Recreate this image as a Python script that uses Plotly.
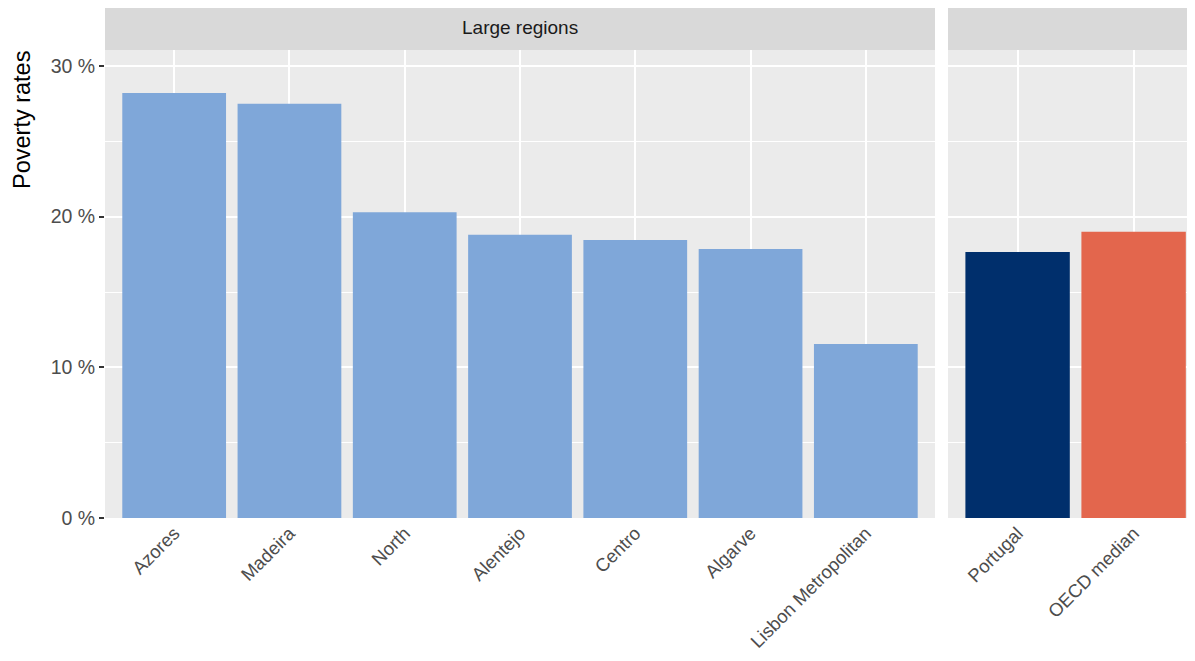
import plotly.graph_objects as go

regions = ["Azores", "Madeira", "North", "Alentejo", "Centro", "Algarve", "Lisbon Metropolitan"]
region_values = [28.2, 27.5, 20.3, 18.8, 18.45, 17.85, 11.55]
benchmarks = ["Portugal", "OECD median"]
benchmark_values = [17.65, 19.0]
benchmark_colors = ["#002F6C", "#E3664D"]
region_color = "#7FA7D9"
ytick_vals = [0, 10, 20, 30]
ytick_text = ["0 %", "10 %", "20 %", "30 %"]
strip_labels = ["Large regions", ""]
y_title = "Poverty rates"

# page body has an 8px margin, so the figure is drawn shifted by 8px
OFF = 8
W, H = 1195, 661
ref_left, ref_right, ref_top, ref_bottom = 105, 1195, 50, 518
L = ref_left - OFF
T = ref_top - OFF
R = W - (ref_right - OFF)
B = H - (ref_bottom - OFF)
pw = W - L - R
ph = H - T - B

def px_x(p):
    return (p - ref_left) / pw

def px_y(p):
    return (ref_bottom - p) / ph

font_family = "Liberation Sans, Arial, sans-serif"

fig = go.Figure()
fig.add_trace(go.Bar(x=regions, y=region_values, marker_color=region_color,
                     marker_line_width=0, width=0.9, xaxis="x", yaxis="y",
                     showlegend=False, hoverinfo="x+y"))
fig.add_trace(go.Bar(x=benchmarks, y=benchmark_values, marker_color=benchmark_colors,
                     marker_line_width=0, width=0.9, xaxis="x2", yaxis="y2",
                     showlegend=False, hoverinfo="x+y"))

d1 = [0, px_x(935)]
d2 = [px_x(948), 1]
unit = (935 - 105) / 7.2
r2_max = 1 + (1195 - 1134) / unit

yr = [0, 30 + (66 - 50) / ((518 - 66) / 30)]

yax_common = dict(range=yr, tickvals=ytick_vals, ticktext=ytick_text,
                  showgrid=True, gridcolor="white", gridwidth=2.2,
                  minor=dict(tickvals=[5, 15, 25], showgrid=True, gridcolor="white", gridwidth=1.1, ticks=""),
                  zeroline=False, showline=False, fixedrange=True)
xax_common = dict(showgrid=True, gridcolor="white", gridwidth=2.2, tickangle=-45,
                  ticks="", showline=False, zeroline=False,
                  tickfont=dict(size=18.5, color="#4D4D4D", family=font_family))

fig.update_layout(
    width=W, height=H,
    margin=dict(l=L, r=R, t=T, b=B, autoexpand=False),
    paper_bgcolor="white",
    plot_bgcolor="#EBEBEB",
    font=dict(family=font_family, size=18, color="#4D4D4D"),
    xaxis=dict(domain=d1, range=[-0.6, 6.6], anchor="y", **xax_common),
    xaxis2=dict(domain=d2, range=[-0.6, r2_max], anchor="y2", **xax_common),
    yaxis=dict(domain=[0, 1], anchor="x", ticks="outside", ticklen=5, tickwidth=1.5,
               tickcolor="#333333", tickfont=dict(size=19.5, color="#4D4D4D", family=font_family),
               **yax_common),
    yaxis2=dict(domain=[0, 1], anchor="x2", showticklabels=False, ticks="", matches="y", **yax_common),
)

# y-axis title, placed at the top (right-justified along the axis)
fig.add_annotation(text=y_title, textangle=-90, xref="paper", yref="paper",
                   x=px_x(22), y=px_y(49), xanchor="center", yanchor="top",
                   showarrow=False, font=dict(size=23.5, color="black", family=font_family))

strip_y0 = 1.0
strip_y1 = px_y(6)
for dom, lab in zip([d1, d2], strip_labels):
    fig.add_shape(type="rect", xref="paper", yref="paper", x0=dom[0], x1=dom[1],
                  y0=strip_y0, y1=strip_y1, fillcolor="#D9D9D9", line_width=0, layer="below")
    if lab:
        fig.add_annotation(text=lab, xref="paper", yref="paper", x=(dom[0] + dom[1]) / 2,
                           y=px_y(28), showarrow=False, yanchor="middle",
                           font=dict(size=19, color="#1A1A1A", family=font_family))

fig.write_html("out.html")
